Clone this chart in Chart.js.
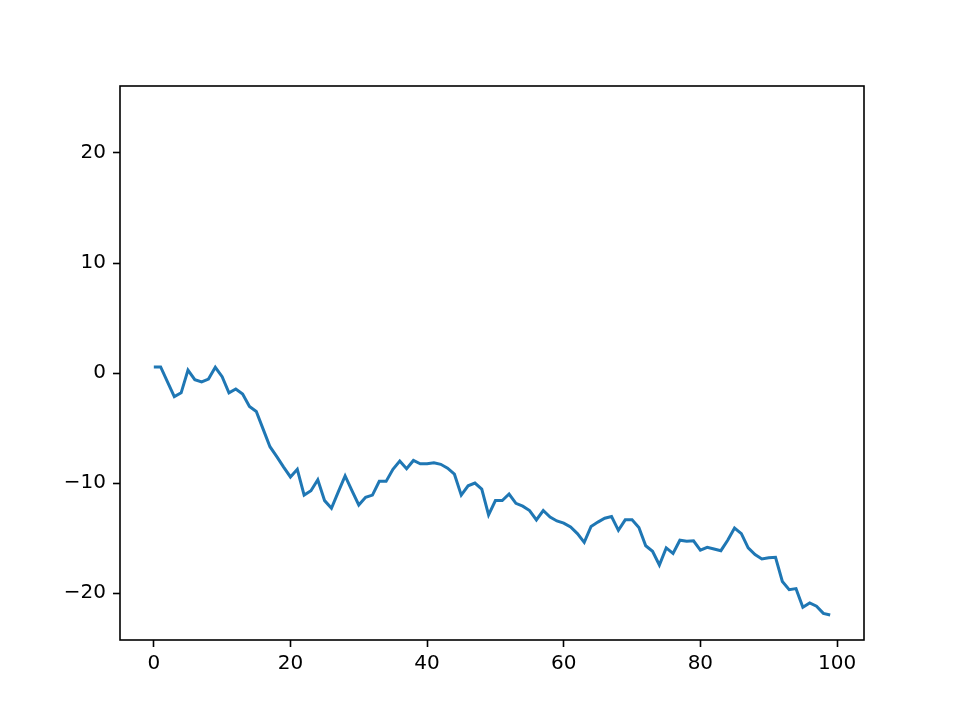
<!DOCTYPE html>
<html>
<head>
<meta charset="utf-8">
<script src="https://cdn.jsdelivr.net/npm/chart.js@4.4.0/dist/chart.umd.min.js"></script>
<style>
  body { margin: 0; background: #fff; }
  #wrap { width: 960px; height: 720px; }
</style>
</head>
<body>
<div id="wrap"><canvas id="chartLinea" width="960" height="720"></canvas></div>
<script>
// walk values, one per step 0..99
const valores = [
  0.55, 0.55, -0.8, -2.15, -1.8, 0.27, -0.6, -0.8, -0.55, 0.52,
  -0.33, -1.8, -1.45, -1.9, -3.05, -3.5, -5.1, -6.7, -7.6, -8.55,
  -9.45, -8.75, -11.1, -10.7, -9.7, -11.6, -12.3, -10.8, -9.35, -10.7,
  -12.0, -11.3, -11.1, -9.85, -9.85, -8.75, -8.0, -8.7, -7.95, -8.25,
  -8.25, -8.15, -8.3, -8.65, -9.2, -11.1, -10.25, -10.0, -10.55, -12.9,
  -11.6, -11.6, -11.0, -11.85, -12.1, -12.5, -13.35, -12.5, -13.1, -13.45,
  -13.65, -14.0, -14.6, -15.4, -13.95, -13.55, -13.2, -13.05, -14.3, -13.35,
  -13.35, -14.05, -15.7, -16.2, -17.45, -15.9, -16.4, -15.2, -15.3, -15.25,
  -16.1, -15.85, -16.0, -16.15, -15.2, -14.1, -14.6, -15.9, -16.5, -16.9,
  -16.8, -16.75, -18.95, -19.7, -19.6, -21.3, -20.9, -21.2, -21.85, -22.0
];
const ticksX = [0, 20, 40, 60, 80, 100];
const ticksY = [-20, -10, 0, 10, 20];
const limitesX = [-4.95, 103.95];
const limitesY = [-24.27, 26.09];

const fuente = { family: 'DejaVu Sans', size: 20 };

function etiqueta(v) {
  return v < 0 ? '\u2212' + Math.abs(v) : String(v);
}

const marco = {
  id: 'marco',
  afterDraw(chart) {
    const a = chart.chartArea;
    const ctx = chart.ctx;
    ctx.save();
    ctx.strokeStyle = '#000';
    ctx.lineWidth = 1.6;
    ctx.strokeRect(a.left, a.top, a.right - a.left, a.bottom - a.top);
    ctx.restore();
  }
};

new Chart(document.getElementById('chartLinea'), {
  type: 'line',
  data: {
    datasets: [{
      data: valores.map((v, i) => ({ x: i, y: v })),
      borderColor: '#1f77b4',
      borderWidth: 3,
      pointRadius: 0,
      tension: 0,
      fill: false
    }]
  },
  options: {
    responsive: false,
    animation: false,
    layout: { padding: { left: 0, right: 96, top: 86, bottom: 0 } },
    plugins: { legend: { display: false }, tooltip: { enabled: false } },
    scales: {
      x: {
        type: 'linear',
        min: limitesX[0],
        max: limitesX[1],
        afterBuildTicks: (s) => { s.ticks = ticksX.map(v => ({ value: v })); },
        afterFit: (s) => { s.height = 80; },
        border: { display: false },
        grid: { drawOnChartArea: false, tickLength: 7, tickWidth: 1.6, tickColor: '#000' },
        ticks: { color: '#000', font: fuente, padding: 5, maxRotation: 0, callback: etiqueta }
      },
      y: {
        type: 'linear',
        min: limitesY[0],
        max: limitesY[1],
        afterBuildTicks: (s) => { s.ticks = ticksY.map(v => ({ value: v })); },
        afterFit: (s) => { s.width = 120; },
        border: { display: false },
        grid: { drawOnChartArea: false, tickLength: 7, tickWidth: 1.6, tickColor: '#000' },
        ticks: { color: '#000', font: fuente, padding: 7, callback: etiqueta }
      }
    }
  },
  plugins: [marco]
});
</script>
</body>
</html>
